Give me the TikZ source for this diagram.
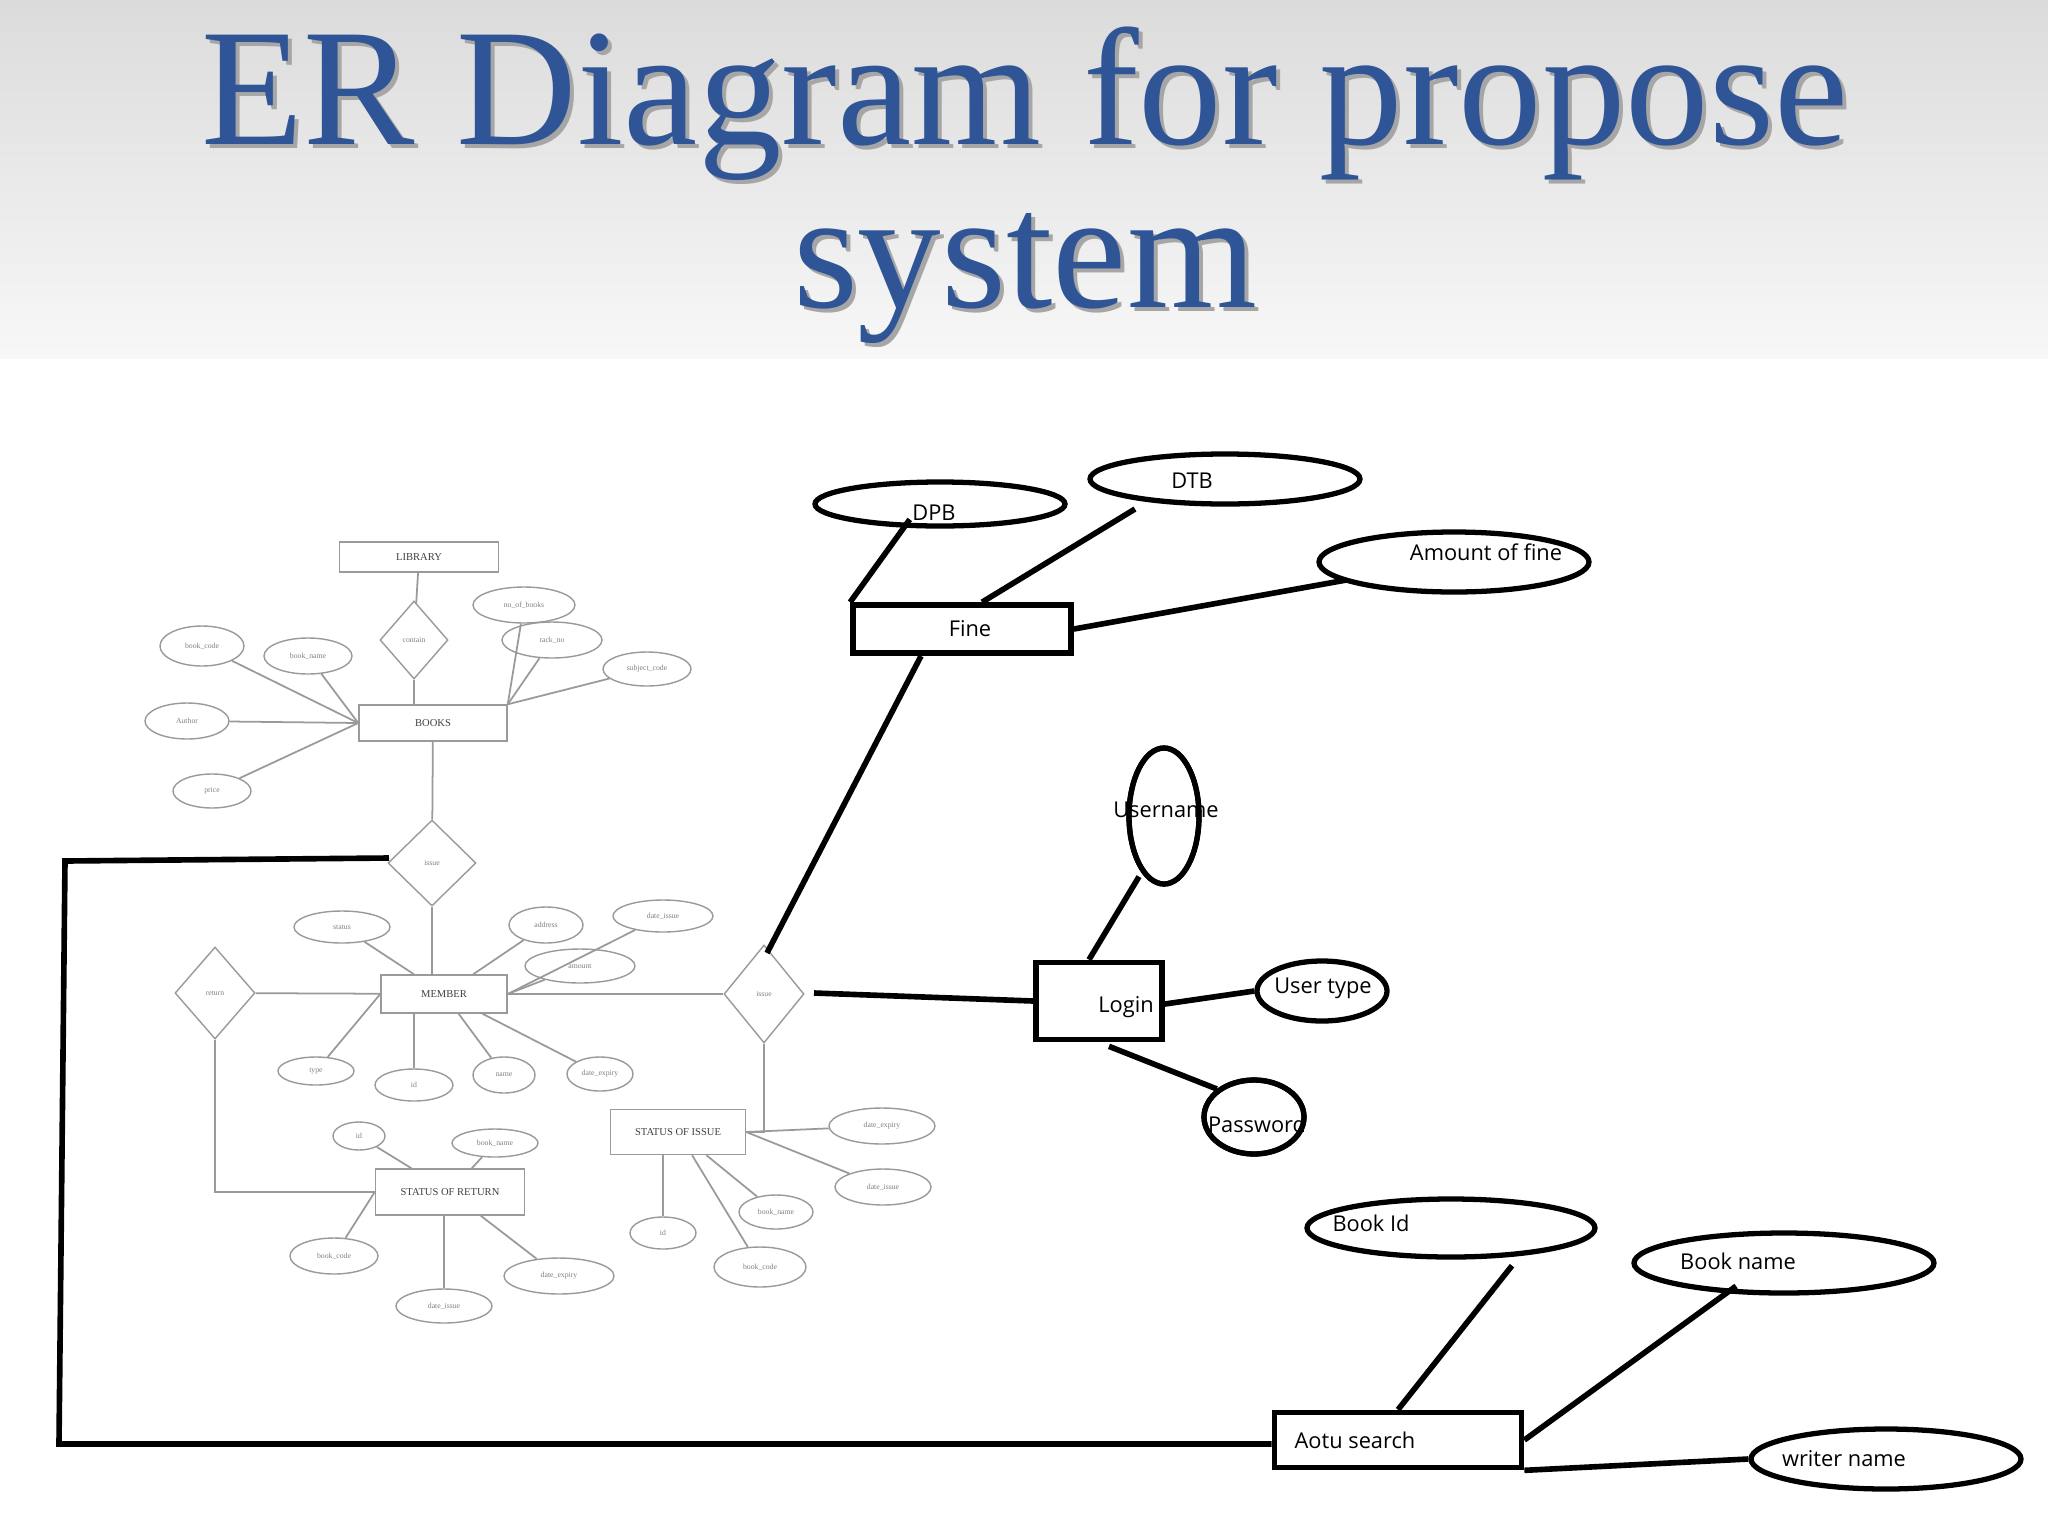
\documentclass[tikz,border=0pt]{standalone}
\usepackage{fontspec}
\setmainfont{Liberation Serif}
\newfontfamily\sansf{Open Sans}
\usetikzlibrary{shapes.geometric}
\definecolor{titleblue}{HTML}{2F5597}
\definecolor{lgray}{HTML}{9A9A9A}
\begin{document}
\begin{tikzpicture}[x=0.01cm,y=-0.01cm,
  bell/.style 2 args={draw,ellipse,line width=1.5pt,minimum width=#1*0.01cm,minimum height=#2*0.01cm,inner sep=0},
  brect/.style={draw,line width=1.6pt,inner sep=0},
  bline/.style={line width=1.6pt},
  btxt/.style={font=\sansf\fontsize{6.2}{7}\selectfont,inner sep=0},
  ttl/.style={font=\fontsize{47.5}{52}\selectfont,inner sep=0},
  sell/.style 2 args={draw=lgray,ellipse,line width=0.4pt,minimum width=#1*0.01cm,minimum height=#2*0.01cm,inner sep=0,font=\fontsize{2.2}{2.5}\selectfont,text=gray},
  srect/.style={draw=lgray,line width=0.4pt,inner sep=0,font=\fontsize{3}{3.5}\selectfont,text=darkgray},
  sdia/.style 2 args={draw=lgray,diamond,line width=0.4pt,minimum width=#1*0.01cm,minimum height=#2*0.01cm,inner sep=0,font=\fontsize{2.2}{2.5}\selectfont,text=gray},
  sline/.style={draw=lgray,line width=0.5pt}]
\useasboundingbox (0,0) rectangle (2048,1536);
\fill[white] (0,0) rectangle (2048,1536);
\shade[top color=gray!28,bottom color=gray!6] (0,0) rectangle (2048,358);
% title
\node[ttl,text=black!35] (ts1) at (1029,108) {ER Diagram for propose};
\node[ttl,text=titleblue] (t1) at (1025,104) {ER Diagram for propose};
\node[ttl,text=black!35] (ts2) at (1029,282) {system};
\node[ttl,text=titleblue] (t2) at (1025,278) {system};

% ---------- small gray diagram ----------
\node[srect,minimum width=1.59cm,minimum height=0.30cm] (lib) at (419,557) {LIBRARY};
\node[sdia={68}{78}] (contain) at (414,640) {contain};
\node[srect,minimum width=1.48cm,minimum height=0.36cm] (books) at (433,723) {BOOKS};
\node[sell={84}{40}] (bcode) at (202,646) {book\_code};
\node[sell={88}{36}] (bname) at (308,656) {book\_name};
\node[sell={84}{36}] (author) at (187,721) {Author};
\node[sell={78}{34}] (price) at (212,791) {price};
\node[sell={102}{36}] (nob) at (524,605) {no\_of\_books};
\node[sell={100}{36}] (rack) at (552,640) {rack\_no};
\node[sell={88}{34}] (subj) at (647,669) {subject\_code};
\node[sdia={88}{86}] (issue1) at (432,863) {issue};
\node[srect,minimum width=1.26cm,minimum height=0.38cm] (member) at (444,994) {MEMBER};
\node[sell={96}{32}] (status) at (342,927) {status};
\node[sell={74}{36}] (addr) at (546,925) {address};
\node[sell={100}{32}] (dissue) at (663,916) {date\_issue};
\node[sell={110}{34}] (amount) at (580,966) {amount};
\node[sdia={80}{92}] (return) at (215,993) {return};
\node[sell={76}{28}] (type) at (316,1071) {type};
\node[sell={78}{32}] (mid) at (414,1085) {id};
\node[sell={62}{36}] (mname) at (504,1075) {name};
\node[sell={66}{34}] (mexp) at (600,1074) {date\_expiry};
\node[sdia={80}{98}] (issue2) at (764,994) {issue};
\node[srect,minimum width=1.35cm,minimum height=0.45cm] (soi) at (678,1132) {STATUS OF ISSUE};
\node[srect,minimum width=1.49cm,minimum height=0.46cm] (sor) at (450,1192) {STATUS OF RETURN};
\node[sell={52}{28}] (rid) at (359,1136) {id};
\node[sell={86}{28}] (rbname) at (495,1143) {book\_name};
\node[sell={88}{36}] (rbcode) at (334,1256) {book\_code};
\node[sell={96}{34}] (rdiss) at (444,1306) {date\_issue};
\node[sell={110}{36}] (rdexp) at (559,1276) {date\_expiry};
\node[sell={106}{36}] (idexp) at (882,1126) {date\_expiry};
\node[sell={96}{36}] (idiss) at (883,1187) {date\_issue};
\node[sell={74}{34}] (ibname) at (776,1212) {book\_name};
\node[sell={66}{32}] (iid) at (663,1233) {id};
\node[sell={92}{40}] (ibcode) at (760,1267) {book\_code};

\draw[sline] (lib) -- (contain);
\draw[sline] (contain) -- (contain|-books.north);
\foreach \a in {bcode,bname,author,price} \draw[sline] (\a) -- (books.west);
\draw[sline] (nob) -- (books.north east);
\draw[sline] (rack) -- (books.north east);
\draw[sline] (subj) -- (books.north east);
\draw[sline] (books) -- (issue1);
\draw[sline] (issue1) -- (issue1|-member.north);
\draw[sline] (status) -- (member);
\draw[sline] (addr) -- (member);
\draw[sline] (dissue) -- (member.east);
\draw[sline] (amount) -- (member.east);
\draw[sline] (return) -- (member);
\draw[sline] (member) -- (issue2);
\draw[sline] (type) -- (member.west);
\draw[sline] (mid) -- (mid|-member.south);
\draw[sline] (mname) -- (member);
\draw[sline] (mexp) -- (member);
\draw[sline] (return.south) |- (sor.west);
\draw[sline] (issue2.south) |- (soi.east);
\draw[sline] (rid) -- (sor);
\draw[sline] (rbname) -- (sor);
\draw[sline] (rbcode) -- (sor.west);
\draw[sline] (rdiss) -- (rdiss|-sor.south);
\draw[sline] (rdexp) -- (sor);
\draw[sline] (idexp) -- (soi.east);
\draw[sline] (idiss) -- (soi.east);
\draw[sline] (ibname) -- (soi);
\draw[sline] (iid) -- (iid|-soi.south);
\draw[sline] (ibcode) -- (soi);

% ---------- bold hand-drawn part ----------
\node[bell={250}{44}] (dpb) at (940,504) {};
\node[bell={270}{50}] (dtb) at (1225,479) {};
\node[bell={270}{60}] (amt) at (1454,562) {};
\node[brect,minimum width=2.18cm,minimum height=0.48cm] (fine) at (962,629) {};
\node[bell={70}{136}] (user) at (1164,816) {};
\node[brect,minimum width=1.26cm,minimum height=0.77cm] (login) at (1099,1001) {};
\node[bell={130}{60}] (utype) at (1322,991) {};
\node[bell={100}{74}] (pass) at (1254,1117) {};
\node[bell={288}{58}] (bid) at (1451,1228) {};
\node[bell={300}{60}] (bkname) at (1784,1263) {};
\node[bell={270}{60}] (wname) at (1886,1459) {};
\node[brect,minimum width=2.47cm,minimum height=0.55cm] (aotu) at (1398,1440) {};
\coordinate (c1) at (389,858);
\coordinate (c2) at (65,861);
\coordinate (c3) at (59,1444);
\coordinate (fb) at (921,656);
\coordinate (fe) at (767,953);
\coordinate (ie) at (814,993);

\node[btxt] (tdpb) at (934,513) {DPB};
\node[btxt] (tdtb) at (1192,481) {DTB};
\node[btxt] (tamt) at (1486,552) {Amount of fine};
\node[btxt] (tfine) at (970,629) {Fine};
\node[btxt] (tuser) at (1166,810) {Username};
\node[btxt] (tlogin) at (1126,1007) {Login};
\node[btxt] (tutype) at (1323,988) {User type};
\node[btxt] (tpass) at (1257,1124) {Password};
\node[btxt] (tbid) at (1371,1223) {Book Id};
\node[btxt] (tbname) at (1738,1261) {Book name};
\node[btxt] (twname) at (1844,1459) {writer name};
\node[btxt] (taotu) at (1355,1440) {Aotu search};
% redraw ellipses over overlapping text
\draw[line width=1.5pt] (user.center) ellipse [x radius=35, y radius=68];
\draw[line width=1.5pt] (pass.center) ellipse [x radius=50, y radius=37];

\draw[bline] (dpb.south west) ++(60,-2) coordinate (d1) -- (fine.north west);
\draw[bline] (dtb) ++(-90,30) coordinate (d2) -- ([xshift=0.2cm]fine.north);
\draw[bline] (amt.west) ++(30,18) coordinate (d3) -- (fine.east);
\draw[bline] (fb) -- (fe);
\draw[bline] (ie) -- (login.west);
\draw[bline] (user.south) ++(-25,-10) coordinate (u1) -- ([xshift=-0.1cm]login.north);
\draw[bline] (login.east) ++(0,3) coordinate (l1) -- (utype.west);
\draw[bline] (login.south) ++(10,4) coordinate (l2) -- (pass.north west);
\draw[bline] (bid.south) ++(61,6) coordinate (b1) -- (aotu.north);
\draw[bline] (bkname.south west) ++(60,0) coordinate (b2) -- (aotu.east);
\draw[bline] (aotu.south east) -- (wname.west);
\draw[bline] (c1) -- (c2) -- (c3) -- (aotu.west|-c3);
\end{tikzpicture}
\end{document}
